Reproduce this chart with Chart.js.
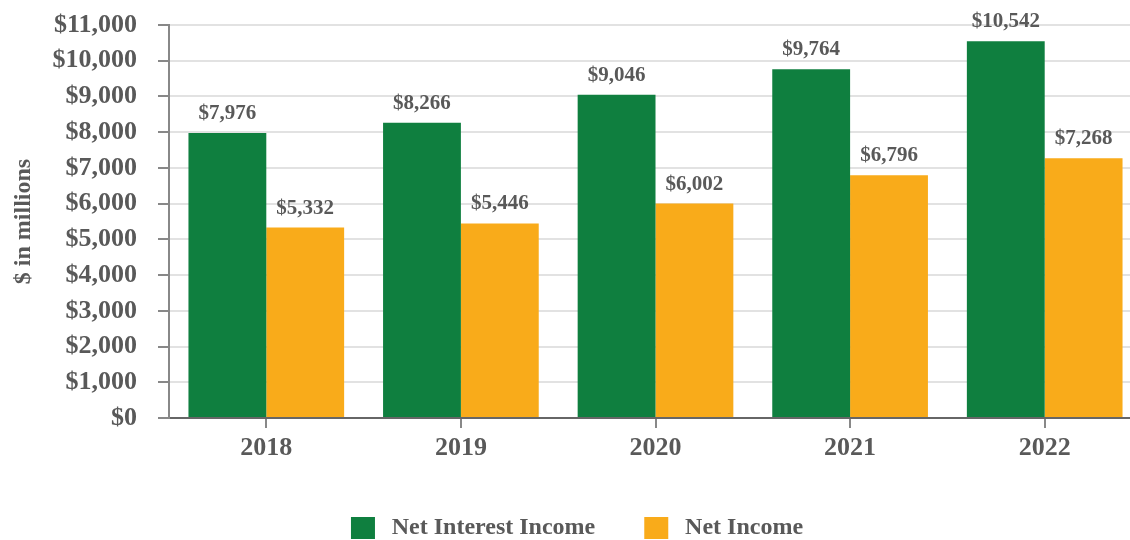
<!DOCTYPE html>
<html>
<head>
<meta charset="utf-8">
<script src="https://cdn.jsdelivr.net/npm/chart.js@4"></script>
<style>
  html, body { margin: 0; padding: 0; background: #fff; overflow: hidden; }
  #wrap { width: 1144px; height: 540px; position: relative; }
</style>
</head>
<body>
<div id="wrap"><canvas id="incomeChart"></canvas></div>
<script>
// ---- data ----
const years = ['2018', '2019', '2020', '2021', '2022'];
const netInterestIncome = [7976, 8266, 9046, 9764, 10542];
const netIncome = [5332, 5446, 6002, 6796, 7268];
const yTickStep = 1000;
const yMax = 11000;

const GREEN = '#0f7f3f';
const ORANGE = '#f9ab1a';
const TEXT = '#595959';
const FONT = "'Liberation Serif', 'Times New Roman', serif";

const fmt = v => '$' + Number(v).toLocaleString('en-US');

// labels on top of each bar
const barValueLabels = {
    id: 'barValueLabels',
    afterDatasetsDraw(chart) {
        const ctx = chart.ctx;
        ctx.save();
        ctx.font = 'bold 21px ' + FONT;
        ctx.fillStyle = TEXT;
        ctx.textAlign = 'center';
        ctx.textBaseline = 'alphabetic';
        chart.data.datasets.forEach((ds, i) => {
            chart.getDatasetMeta(i).data.forEach((bar, j) => {
                ctx.fillText(fmt(ds.data[j]), bar.x, bar.y - 14);
            });
        });
        ctx.restore();
    }
};

new Chart(document.getElementById('incomeChart'), {
    type: 'bar',
    data: {
        labels: years,
        datasets: [
            { label: 'Net Interest Income', data: netInterestIncome, backgroundColor: GREEN },
            { label: 'Net Income', data: netIncome, backgroundColor: ORANGE }
        ]
    },
    options: {
        responsive: true,
        maintainAspectRatio: false,
        animation: false,
        categoryPercentage: 0.8,
        barPercentage: 1.0,
        layout: { padding: { top: 25, right: 2, left: 12, bottom: -10 } },
        plugins: {
            tooltip: { enabled: false },
            legend: {
                position: 'bottom',
                labels: {
                    font: { family: FONT, size: 24, weight: 'bold' },
                    color: TEXT,
                    boxWidth: 24,
                    boxHeight: 22,
                    padding: 49,
                    // a thin space widens the gap between swatch and text
                    generateLabels(chart) {
                        const items = Chart.defaults.plugins.legend.labels.generateLabels(chart);
                        items.forEach(it => { it.text = '\u2009' + it.text; });
                        return items;
                    }
                }
            }
        },
        scales: {
            x: {
                afterFit(scale) { scale.height = 49; },
                grid: { drawOnChartArea: false, offset: false, tickLength: 10, tickColor: '#888', lineWidth: 2 },
                border: { color: '#666', width: 2 },
                ticks: { font: { family: FONT, size: 26, weight: 'bold' }, color: TEXT, padding: 5 }
            },
            y: {
                min: 0,
                max: yMax,
                afterFit(scale) {
                    scale.width = 157;
                    scale.paddingTop = 0; // top edge comes from layout padding only
                },
                grid: { color: '#e2e2e2', lineWidth: 2, tickLength: 11, tickColor: '#888' },
                border: { color: '#888', width: 2 },
                ticks: {
                    stepSize: yTickStep,
                    font: { family: FONT, size: 26, weight: 'bold' },
                    color: TEXT,
                    padding: 21,
                    callback: v => fmt(v)
                },
                title: {
                    display: true,
                    text: '$ in millions',
                    font: { family: FONT, size: 24, weight: 'bold' },
                    color: TEXT,
                    padding: { top: -3, bottom: 0 }
                }
            }
        }
    },
    plugins: [barValueLabels]
});
</script>
</body>
</html>
